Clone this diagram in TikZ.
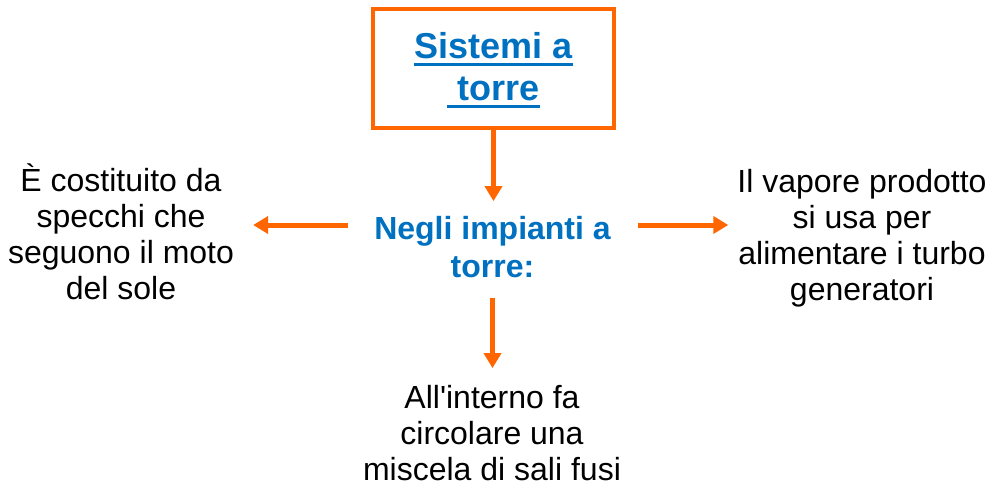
\documentclass[tikz,border=0pt]{standalone}
\usepackage{fontspec}
\setmainfont{Liberation Sans}
\usetikzlibrary{arrows.meta}
\definecolor{orng}{HTML}{FF6600}
\definecolor{blu}{HTML}{0070C0}
\newcommand\ulbox[1]{\setbox0\hbox{#1}\rlap{\rule[-8pt]{\wd0}{3pt}}\box0}
\begin{document}
\begin{tikzpicture}[x=1pt,y=-1pt,
  txt/.style={align=center,inner sep=0pt,font=\fontsize{32}{36}\selectfont},
  hubtxt/.style={align=center,inner sep=0pt,text=blu,font=\bfseries\fontsize{32}{38}\selectfont},
  arr/.style={draw=orng,line width=5pt,-{Triangle[length=15pt,width=17pt]}},
  titlebox/.style={draw=orng,line width=4.5pt,minimum width=241pt,minimum height=119pt,inner sep=0pt,align=center,text=blu,font=\bfseries\fontsize{36}{42}\selectfont}]
\useasboundingbox[fill=white] (0,0) rectangle (994,488);
\node[titlebox] (title) at (493.5,68.5) {\rule{0pt}{29pt}\ulbox{Sistemi a}\\\ulbox{\ torre}};
\coordinate (hub) at (493,225);
\node[hubtxt,anchor=base] (mid) at (492.5,277) {Negli impianti a\\torre:};
\node[txt,anchor=base] (left) at (121,299) {È costituito da\\specchi che\\seguono il moto\\del sole};
\node[txt,anchor=base] (right) at (862,300) {Il vapore prodotto\\si usa per\\alimentare i turbo\\generatori};
\node[txt,anchor=base] (bottom) at (492,480) {All\textquotesingle interno fa\\circolare una\\miscela di sali fusi};
\draw[arr,shorten >=14.5pt] (title.south) -- (title.south |- mid.north);
\draw[arr] ([xshift=-26pt]mid.west |- hub) -- ([xshift=19pt]left.east |- hub);
\draw[arr] ([xshift=27pt]mid.east |- hub) -- ([xshift=-9pt]right.west |- hub);
\draw[arr,shorten <=20pt,shorten >=16.5pt] (mid.south) -- (mid.south |- bottom.north);
\end{tikzpicture}
\end{document}
